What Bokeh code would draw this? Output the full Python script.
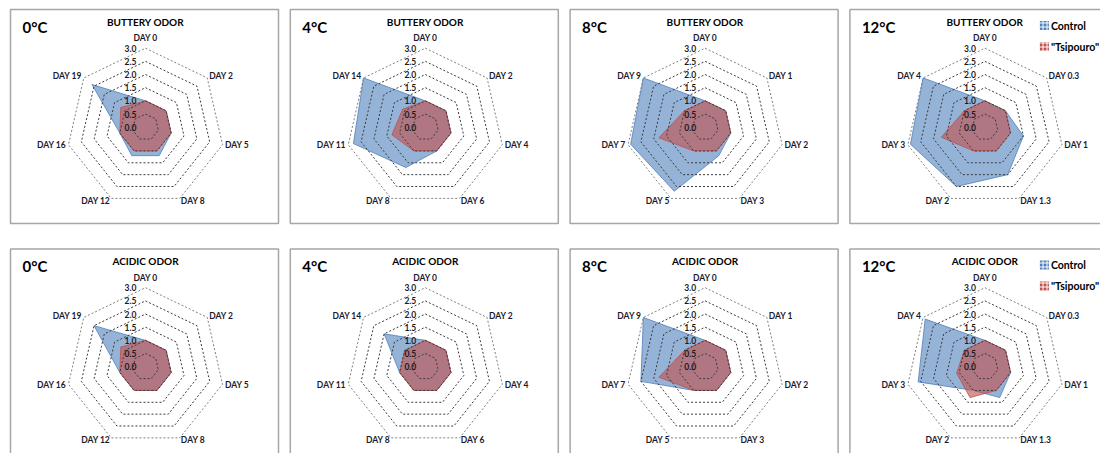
import math
from bokeh.plotting import figure
from bokeh.models import Range1d, ColumnDataSource
from bokeh.core.properties import value
from bokeh.embed import file_html
from bokeh.resources import INLINE

# ---------------- data ----------------
temps = ["0°C", "4°C", "8°C", "12°C"]
odors = ["BUTTERY ODOR", "ACIDIC ODOR"]
series_names = ["Control", "\"Tsipouro\""]
scale_ticks = [0.0, 0.5, 1.0, 1.5, 2.0, 2.5, 3.0]

days_0C = ["DAY 0", "DAY 2", "DAY 5", "DAY 8", "DAY 12", "DAY 16", "DAY 19"]
days_4C = ["DAY 0", "DAY 2", "DAY 4", "DAY 6", "DAY 8", "DAY 11", "DAY 14"]
days_8C = ["DAY 0", "DAY 1", "DAY 2", "DAY 3", "DAY 5", "DAY 7", "DAY 9"]
days_12C = ["DAY 0", "DAY 0.3", "DAY 1", "DAY 1.3", "DAY 2", "DAY 3", "DAY 4"]

buttery_control_0C = [1.0, 1.0, 1.0, 1.2, 1.2, 1.0, 2.6]
buttery_tsipouro_0C = [1.0, 1.0, 1.0, 1.0, 1.0, 1.0, 1.2]
buttery_control_4C = [1.0, 1.0, 1.0, 1.0, 1.7, 2.8, 3.0]
buttery_tsipouro_4C = [1.0, 1.0, 1.0, 1.0, 1.0, 1.3, 1.1]
buttery_control_8C = [1.0, 1.0, 1.0, 1.2, 2.7, 2.9, 3.0]
buttery_tsipouro_8C = [1.0, 1.0, 1.0, 1.0, 1.0, 1.8, 1.0]
buttery_control_12C = [1.0, 1.0, 1.5, 2.0, 2.5, 2.9, 3.0]
buttery_tsipouro_12C = [1.0, 1.0, 1.0, 1.0, 1.0, 1.7, 1.0]

acidic_control_0C = [1.0, 1.0, 1.0, 1.0, 1.0, 1.0, 2.5]
acidic_tsipouro_0C = [1.0, 1.0, 1.0, 1.0, 1.0, 1.0, 1.2]
acidic_control_4C = [1.0, 1.0, 1.0, 1.0, 1.0, 1.0, 2.0]
acidic_tsipouro_4C = [1.0, 1.0, 1.0, 1.0, 1.0, 1.0, 1.0]
acidic_control_8C = [1.0, 1.0, 1.0, 1.0, 1.0, 2.5, 3.0]
acidic_tsipouro_8C = [1.0, 1.0, 1.0, 1.0, 1.0, 1.8, 1.0]
acidic_control_12C = [1.0, 1.0, 1.0, 1.3, 1.0, 2.6, 2.9]
acidic_tsipouro_12C = [1.0, 1.0, 1.0, 1.0, 1.3, 1.1, 1.0]

panels = [
    (0, 0, days_0C, buttery_control_0C, buttery_tsipouro_0C),
    (0, 1, days_4C, buttery_control_4C, buttery_tsipouro_4C),
    (0, 2, days_8C, buttery_control_8C, buttery_tsipouro_8C),
    (0, 3, days_12C, buttery_control_12C, buttery_tsipouro_12C),
    (1, 0, days_0C, acidic_control_0C, acidic_tsipouro_0C),
    (1, 1, days_4C, acidic_control_4C, acidic_tsipouro_4C),
    (1, 2, days_8C, acidic_control_8C, acidic_tsipouro_8C),
    (1, 3, days_12C, acidic_control_12C, acidic_tsipouro_12C),
]

# ---------------- layout / style ----------------
FONT = value("Lato")
BLUE = "#4F81BD"
RED = "#C0504D"
R_MAX = 79.0          # pixel radius of the 3.0 ring
V_MAX = 3.0
COL_STEP = 279.8
ROW_STEP = 239.5
PANEL_W, PANEL_H = 268, 214

p = figure(width=1100, height=453, x_range=Range1d(0, 1100), y_range=Range1d(453, 0),
           output_backend="svg", toolbar_location=None, min_border=0,
           x_axis_type=None, y_axis_type=None)
p.outline_line_color = None
p.background_fill_color = "white"
p.border_fill_color = "white"
for g in p.grid:
    g.visible = False


def polar(cx, cy, vals):
    n = len(vals)
    xs, ys = [], []
    for k, v in enumerate(vals):
        t = 2 * math.pi * k / n
        r = v / V_MAX * R_MAX
        xs.append(cx + r * math.sin(t))
        ys.append(cy - r * math.cos(t))
    return xs, ys


border = dict(left=[], right=[], top=[], bottom=[])
ring_xs, ring_ys, ring_col = [], [], []
patch_c = dict(xs=[], ys=[])
patch_t = dict(xs=[], ys=[])
tick_txt = dict(x=[], y=[], t=[])
cat_txt = dict(x=[], y=[], t=[], align=[], base=[])
title_txt = dict(x=[], y=[], t=[])
temp_txt = dict(x=[], y=[], t=[])
leg_mark = dict(x=[], y=[], c=[])
leg_txt = dict(x=[], y=[], t=[])

for row, col, days, ctrl, tsip in panels:
    left = 10 + col * COL_STEP
    top = 9 + row * ROW_STEP
    cx = left + 135
    cy = top + 117.7
    border["left"].append(left)
    border["right"].append(left + PANEL_W)
    border["top"].append(top)
    border["bottom"].append(top + PANEL_H)

    n = len(days)
    for tv in scale_ticks[1:]:
        xs, ys = polar(cx, cy, [tv] * n)
        ring_xs.append(xs + [xs[0]])
        ring_ys.append(ys + [ys[0]])
        ring_col.append("#808080" if tv == V_MAX else "#3a3a3a")

    xs, ys = polar(cx, cy, ctrl)
    patch_c["xs"].append(xs)
    patch_c["ys"].append(ys)
    xs, ys = polar(cx, cy, tsip)
    patch_t["xs"].append(xs)
    patch_t["ys"].append(ys)

    for tv in scale_ticks:
        tick_txt["x"].append(cx - 9)
        tick_txt["y"].append(cy - tv / V_MAX * R_MAX)
        tick_txt["t"].append(f"{tv:.1f}")

    vx, vy = polar(cx, cy, [V_MAX] * n)
    for k, d in enumerate(days):
        t = 2 * math.pi * k / n
        s, c = math.sin(t), math.cos(t)
        if abs(s) < 0.1:
            cat_txt["x"].append(vx[k])
            cat_txt["y"].append(vy[k] - 5)
            cat_txt["align"].append("center")
            cat_txt["base"].append("bottom")
        else:
            cat_txt["x"].append(vx[k] + 2.5 * s)
            cat_txt["y"].append(vy[k] - 2.5 * c)
            cat_txt["align"].append("left" if s > 0 else "right")
            cat_txt["base"].append("middle")
        cat_txt["t"].append(d)

    title_txt["x"].append(cx)
    title_txt["y"].append(top + 12)
    title_txt["t"].append(odors[row])
    temp_txt["x"].append(left + 12)
    temp_txt["y"].append(top + 17)
    temp_txt["t"].append(temps[col])

    if col == 3:
        for j, name in enumerate(series_names):
            leg_mark["x"].append(left + 194.5)
            leg_mark["y"].append(top + 16 + j * 21)
            leg_mark["c"].append(BLUE if j == 0 else RED)
            leg_txt["x"].append(left + 201)
            leg_txt["y"].append(top + 16 + j * 21)
            leg_txt["t"].append(name)

# panel frames
p.quad(source=ColumnDataSource(border), left="left", right="right", top="top", bottom="bottom",
       fill_color=None, line_color="#a6a6a6", line_width=1.5)

# data polygons
p.patches(source=ColumnDataSource(patch_c), xs="xs", ys="ys", fill_color=BLUE, fill_alpha=0.6,
          line_color=BLUE, line_alpha=0.8, line_width=1)
p.patches(source=ColumnDataSource(patch_t), xs="xs", ys="ys", fill_color=RED, fill_alpha=0.62,
          line_color=RED, line_alpha=0.8, line_width=1)

# rings
p.multi_line(source=ColumnDataSource(dict(xs=ring_xs, ys=ring_ys, c=ring_col)), xs="xs", ys="ys",
             line_color="c", line_width=1, line_dash="2 2")

# texts
p.text(source=ColumnDataSource(tick_txt), x="x", y="y", text="t", text_font=FONT,
       text_font_size="8.5px", text_font_style="bold", text_align="right",
       text_baseline="middle", text_color="#1a1a1a")
p.text(source=ColumnDataSource(cat_txt), x="x", y="y", text="t", text_font=FONT,
       text_font_size="8.5px", text_font_style="bold", text_align="align",
       text_baseline="base", text_color="#1a1a2e")
p.text(source=ColumnDataSource(title_txt), x="x", y="y", text="t", text_font=FONT,
       text_font_size="10px", text_font_style="bold", text_align="center",
       text_baseline="middle", text_color="#000000")
p.text(source=ColumnDataSource(temp_txt), x="x", y="y", text="t", text_font=FONT,
       text_font_size="15px", text_font_style="bold", text_align="left",
       text_baseline="middle", text_color="#000000")

# legends
p.rect(source=ColumnDataSource(leg_mark), x="x", y="y", width=9, height=9, fill_color="c",
       line_color=None, hatch_pattern="+", hatch_color="white", hatch_scale=4, hatch_weight=1)
p.text(source=ColumnDataSource(leg_txt), x="x", y="y", text="t", text_font=FONT,
       text_font_size="10.5px", text_font_style="bold", text_align="left",
       text_baseline="middle", text_color="#000000")

open("out.html", "w").write(file_html(p, INLINE))
